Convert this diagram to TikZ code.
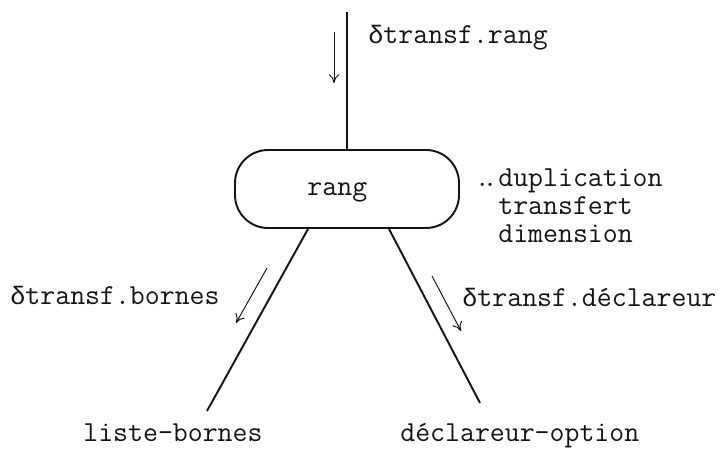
\documentclass[tikz,border=0pt]{standalone}
\usepackage{fontspec}
\newfontfamily\deltafont[Scale=0.87]{Liberation Mono}
\usetikzlibrary{arrows.meta}

\definecolor{tree@ink}{RGB}{20,20,20}
\newcommand{\dlt}{{\deltafont δ}}

\begin{document}
\begin{tikzpicture}[x=0.02cm, y=-0.02cm,
    font=\fontsize{16.5}{20}\selectfont\ttfamily, text=tree@ink,
    rangbox/.style={draw=tree@ink, line width=1.1pt, rounded corners=0.66cm,
      minimum width=4.48cm, minimum height=1.56cm, inner sep=0pt, text depth=0pt},
    branch/.style={draw=tree@ink, line width=1.1pt},
    flow/.style={draw=tree@ink, line width=0.55pt, -{To[length=5pt, width=6pt]}},
    lbl/.style={anchor=base west, inner sep=0pt}]
  % Grid follows the scan: x to the right, y downwards
  \path[use as bounding box] (0,0) rectangle (727,449);

  % ---- TREE NODES ----
  % label sits a little left of the box centre, as in the scan
  \node[rangbox] (rang) at (347,189) {rang\hspace*{11pt}};
  \node[lbl] (bornes) at (83,441) {liste-bornes};
  \node[lbl] (decl) at (400,441) {déclareur-option};

  % free ends of the branches
  \coordinate (topend) at (347,12);
  \coordinate (bornesend) at (207,411);
  \coordinate (declend) at (480,403);

  \draw[branch] (topend) -- (rang.north);
  \draw[branch] ([xshift=-0.78cm]rang.south) -- (bornesend);
  \draw[branch] ([xshift=0.84cm]rang.south) -- (declend);

  % ---- FLOW ARROWS ----
  \coordinate (rangA) at (334,32);   \coordinate (rangB) at (334,83);
  \coordinate (bornesA) at (267,268); \coordinate (bornesB) at (236,323);
  \coordinate (declA) at (432,276);  \coordinate (declB) at (461,331);
  \draw[flow] (rangA) -- (rangB);
  \draw[flow] (bornesA) -- (bornesB);
  \draw[flow] (declA) -- (declB);

  \node[lbl] (rangflow) at (368,44) {\dlt transf.rang};
  \node[lbl] (bornesflow) at (10,305) {\dlt transf.bornes};
  \node[lbl] (declflow) at (462,307) {\dlt transf.déclareur};

  % ---- OPERATIONS ON rang ----
  \node[lbl, anchor=base east] (dots) at (498,187) {.\kern-4pt.};
  \foreach \yb/\op [count=\k] in {187/duplication, 215/transfert, 243/dimension}
    \node[lbl] (op\k) at (498,\yb) {\op};
\end{tikzpicture}
\end{document}
